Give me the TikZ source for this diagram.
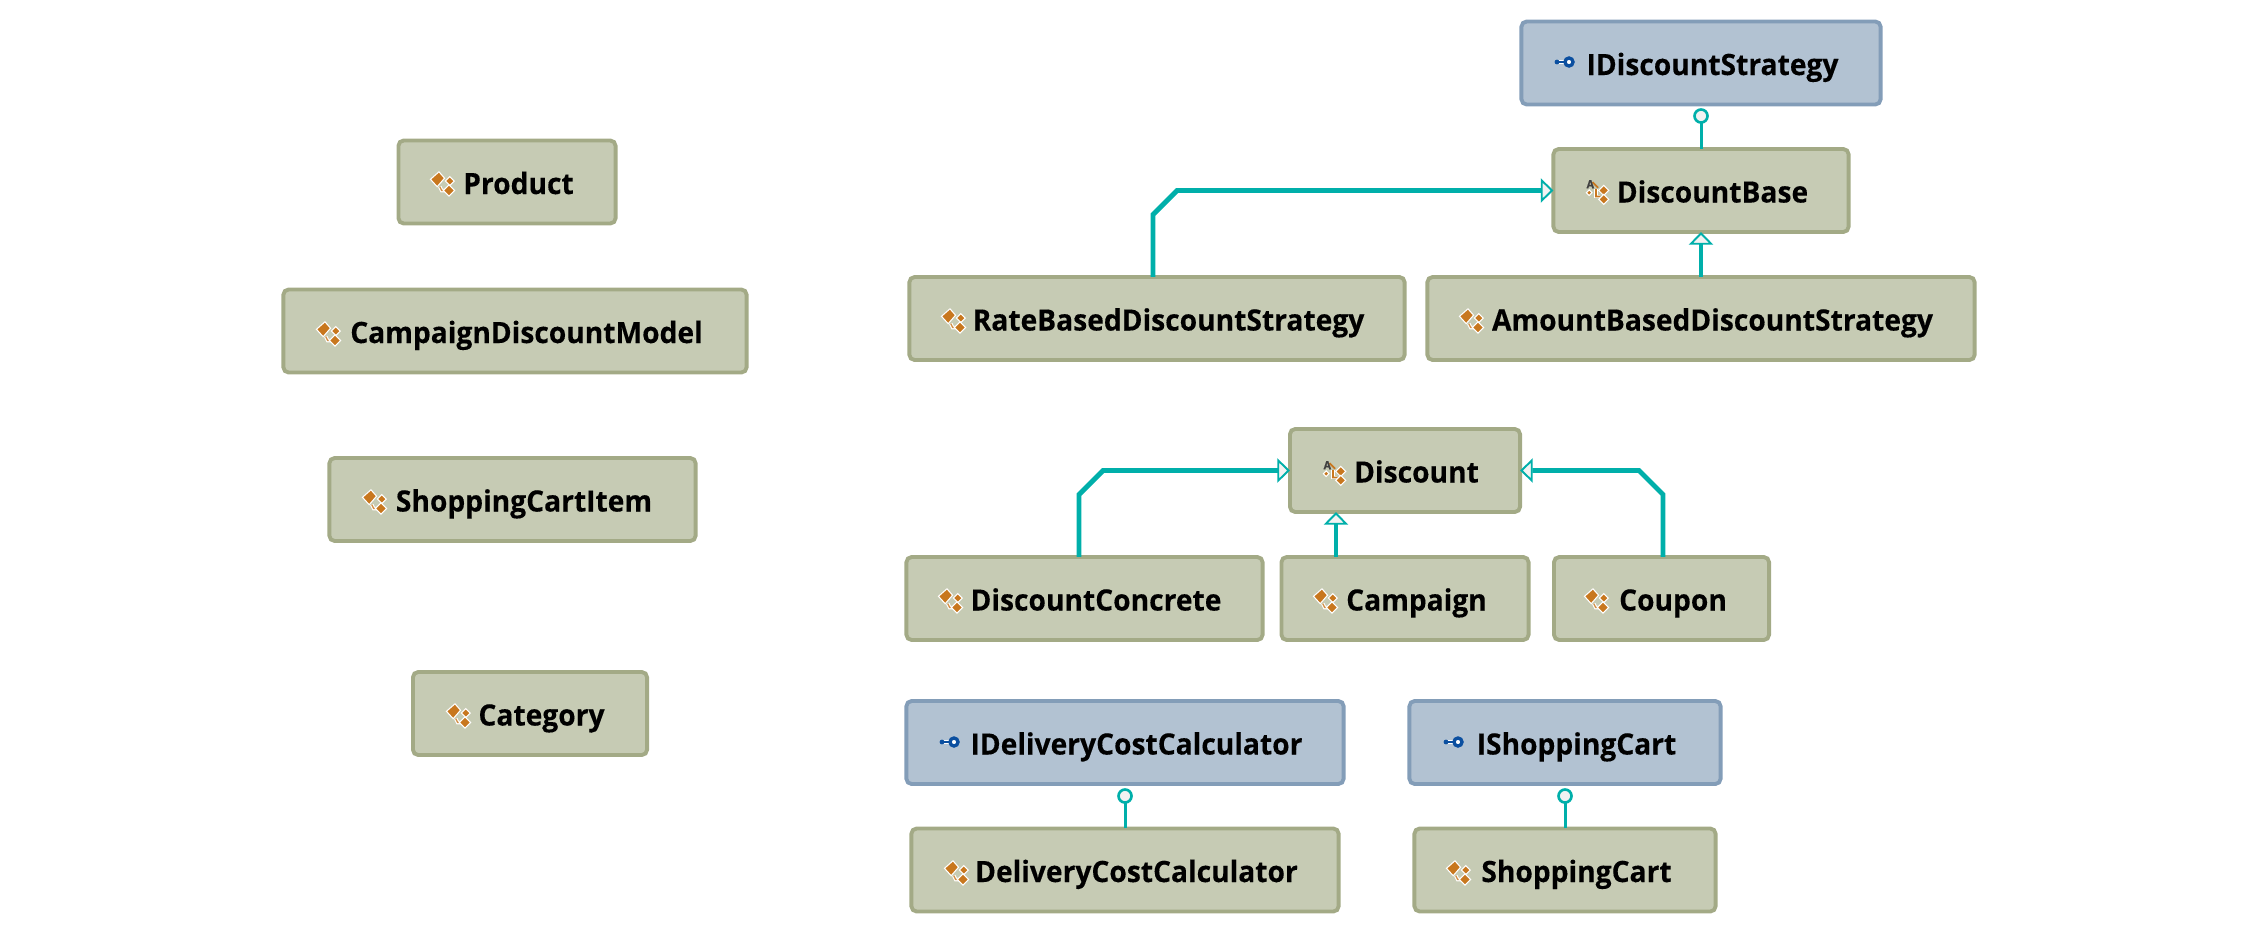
\documentclass[tikz,border=0pt]{standalone}
\usepackage{fontspec}
\setmainfont{Open Sans}[FakeStretch=0.96, BoldFeatures={FakeBold=0.25}]
\usetikzlibrary{arrows.meta}

\definecolor{classfill}{HTML}{C6CBB4}
\definecolor{classedge}{HTML}{A3AA86}
\definecolor{ifacefill}{HTML}{B2C2D2}
\definecolor{ifaceedge}{HTML}{839DB8}
\definecolor{teal}{HTML}{00AFAA}
\definecolor{tipfill}{HTML}{F2F2F2}
\definecolor{iconorange}{HTML}{C8771E}
\definecolor{iconblue}{HTML}{0B4FA0}

\newcommand{\boxname}[1]{\hspace{0.23cm}#1}

\tikzset{
  classbox/.style={draw=classedge, fill=classfill, line width=1.1pt, rounded corners=1.5pt,
    outer sep=0pt, minimum height=0.83cm, text height=0.25cm, text depth=0.01cm,
    font=\fontsize{8.35pt}{9pt}\selectfont\bfseries},
  ifacebox/.style={classbox, draw=ifaceedge, fill=ifacefill},
  inherit/.style={draw=teal, line width=1.4pt,
    -{Triangle[length=3.6pt, width=6.9pt, line width=0.55pt, fill=tipfill]}},
  realize/.style={draw=teal, line width=0.85pt},
  ball/.style={circle, draw=teal, fill=tipfill, line width=0.75pt, inner sep=0pt, minimum size=0.13cm, outer sep=0pt},
  iconpart/.style={fill=iconorange, draw=white, line width=0.3pt},
  classicon/.pic={
    \begin{scope}[scale=1.12]
    \draw[white, line width=1pt] (-2,3.3) -- (-0.3,6.7) -- (3,6.7);
    \draw[iconorange!80!white, line width=0.4pt] (-2,3.3) -- (-0.3,6.7) -- (3,6.7);
    \draw[iconpart] (-10.3,-3.3) -- (-2.7,-10) -- (2.3,-4.3) -- (-4.3,3.3) -- cycle;
    \draw[iconpart] (7,-5.7) -- (11,-1.7) -- (7,2.3) -- (3,-1.7) -- cycle;
    \draw[iconpart] (6.3,1.7) -- (11.3,6.7) -- (6.3,11.7) -- (1.3,6.7) -- cycle;
    \end{scope}
  },
  abstracticon/.pic={
    \begin{scope}[scale=1.12]
    \draw[white, line width=1pt] (-1,-2) -- (-1,5) -- (3,5);
    \draw[iconorange, line width=0.5pt] (-4,-8) -- (1,-3) (-1,-2) -- (-1,5) -- (3,5);
    \draw[iconpart] (-7,-1) -- (-4.5,1.5) -- (-7,4) -- (-9.5,1.5) -- cycle;
    \draw[iconpart] (6,-5) -- (10.5,-0.5) -- (6,4) -- (1.5,-0.5) -- cycle;
    \draw[iconpart] (6,3) -- (10.5,7.5) -- (6,12) -- (1.5,7.5) -- cycle;
    \node[font=\fontsize{3.2pt}{3pt}\selectfont\bfseries, inner sep=0pt, text=black!75] (-pa) at (-6,-6) {A};
    \end{scope}
  },
  ifaceicon/.pic={
    \draw[white, line width=0.9pt] (-8,0) -- (4,0);
    \draw[iconblue, line width=0.5pt] (-8,0) -- (0,0);
    \fill[iconblue] (-8,0) circle (2.4);
    \draw[iconblue, fill=white, line width=0.95pt] (4,0) circle (4);
  }
}

\begin{document}
\begin{tikzpicture}[x=0.01cm, y=-0.01cm]
\useasboundingbox (0,0) rectangle (2257,933);

% left column
\node[classbox, minimum width=2.17cm] (product) at (507,182) {\boxname{Product}};
\node[classbox, minimum width=4.63cm] (campaignmodel) at (515,331) {\boxname{CampaignDiscountModel}};
\node[classbox, minimum width=3.66cm] (cartitem) at (512.5,499.5) {\boxname{ShoppingCartItem}};
\node[classbox, minimum width=2.34cm] (category) at (530,713.5) {\boxname{Category}};

% discount strategies
\node[ifacebox, minimum width=3.59cm] (idiscount) at (1701,63) {\boxname{IDiscountStrategy}};
\node[classbox, minimum width=2.95cm] (discountbase) at (1701,190.5) {\boxname{DiscountBase}};
\node[classbox, minimum width=4.95cm] (ratebased) at (1157,318.5) {\boxname{RateBasedDiscountStrategy}};
\node[classbox, minimum width=5.47cm] (amountbased) at (1701,318.5) {\boxname{AmountBasedDiscountStrategy}};

% discounts
\node[classbox, minimum width=2.30cm] (discount) at (1405,470.5) {\boxname{Discount}};
\node[classbox, minimum width=3.56cm] (concrete) at (1084.5,598.5) {\boxname{DiscountConcrete}};
\node[classbox, minimum width=2.47cm] (campaign) at (1405,598.5) {\boxname{Campaign}};
\node[classbox, minimum width=2.15cm] (coupon) at (1661.5,598.5) {\boxname{Coupon}};

% delivery and cart
\node[ifacebox, minimum width=4.37cm] (idelivery) at (1125,742.5) {\boxname{IDeliveryCostCalculator}};
\node[classbox, minimum width=4.27cm] (delivery) at (1125,870) {\boxname{DeliveryCostCalculator}};
\node[ifacebox, minimum width=3.11cm] (icart) at (1565,742.5) {\boxname{IShoppingCart}};
\node[classbox, minimum width=3.01cm] (cart) at (1565,870) {\boxname{ShoppingCart}};

\pic at (442,183) {classicon};
\pic at (328,333) {classicon};
\pic at (374,501) {classicon};
\pic at (458,715) {classicon};
\pic at (953,320) {classicon};
\pic at (1471,320) {classicon};
\pic at (950,600) {classicon};
\pic at (1325,600) {classicon};
\pic at (1596,600) {classicon};
\pic at (956,872) {classicon};
\pic at (1458,872) {classicon};
\pic at (1597,191) {abstracticon};
\pic at (1334,472) {abstracticon};
\pic at (1565,62) {ifaceicon};
\pic at (950,742) {ifaceicon};
\pic at (1454,742) {ifaceicon};

% inheritance
\draw[inherit] (amountbased.north) -- (discountbase.south);
\draw[inherit] ([xshift=-0.04cm]ratebased.north) -- ([xshift=-0.04cm,yshift=-0.24cm]ratebased.north |- discountbase.west)
  -- ([xshift=0.20cm]ratebased.north |- discountbase.west) -- (discountbase.west);
\draw[inherit] ([xshift=-0.055cm]concrete.north) -- ([xshift=-0.055cm,yshift=-0.24cm]concrete.north |- discount.west)
  -- ([xshift=0.185cm]concrete.north |- discount.west) -- (discount.west);
\draw[inherit] ([xshift=-0.69cm]campaign.north) -- ([xshift=-0.69cm]discount.south);
\draw[inherit] ([xshift=0.015cm]coupon.north) -- ([xshift=0.015cm,yshift=-0.24cm]coupon.north |- discount.east)
  -- ([xshift=-0.225cm]coupon.north |- discount.east) -- (discount.east);

% realization
\node[ball] (ballstrategy) at (1701,116) {};
\node[ball] (balldelivery) at (1125,796) {};
\node[ball] (ballcart) at (1565,796) {};
\draw[realize] (discountbase.north) -- (ballstrategy);
\draw[realize] (delivery.north) -- (balldelivery);
\draw[realize] (cart.north) -- (ballcart);
\end{tikzpicture}
\end{document}
